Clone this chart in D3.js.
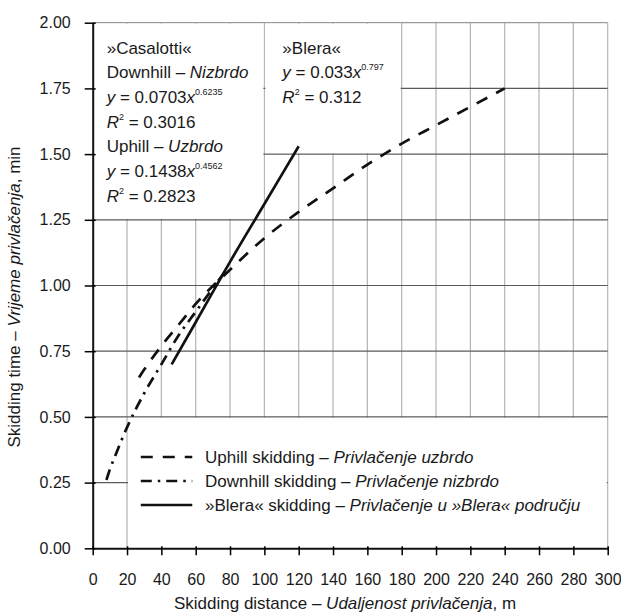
<!DOCTYPE html>
<html>
<head>
<meta charset="utf-8">
<script src="https://cdn.jsdelivr.net/npm/d3@7"></script>
<style>
  body { margin: 0; background: #fff; }
  svg text { font-family: "Liberation Sans", Arial, sans-serif; fill: #1a1a1a; }
  .tick text { font-family: "Liberation Sans Narrow", "Arial Narrow", "Liberation Sans", sans-serif; font-size: 16px; }
</style>
</head>
<body>
<div id="chart"></div>
<script>
// tick labels
var xTicks = [0, 20, 40, 60, 80, 100, 120, 140, 160, 180, 200, 220, 240, 260, 280, 300]
var yTicks = [0, 0.25, 0.5, 0.75, 1, 1.25, 1.5, 1.75, 2]

// curves (distance m, time min)
var uphillDist = [27, 30, 40, 50, 60, 80, 100, 120, 140, 160, 180, 200, 220, 240]
var uphillTime = [0.65, 0.68, 0.77, 0.85, 0.93, 1.06, 1.18, 1.28, 1.37, 1.46, 1.54, 1.61, 1.68, 1.75]
var downhillDist = [8, 10, 13, 20, 30, 40, 50, 60, 70, 79]
var downhillTime = [0.26, 0.30, 0.35, 0.46, 0.59, 0.70, 0.81, 0.90, 0.99, 1.07]
var bleraDist = [46, 60, 80, 100, 120]
var bleraTime = [0.70, 0.86, 1.09, 1.31, 1.53]

var legendLabels = [
  ["Uphill skidding – ", "Privlačenje uzbrdo"],
  ["Downhill skidding – ", "Privlačenje nizbrdo"],
  ["»Blera« skidding – ", "Privlačenje u »Blera« području"]
]

var width = 621, height = 615
var svg = d3.select("#chart").append("svg")
  .attr("width", width)
  .attr("height", height)

var x = d3.scaleLinear().domain([0, 300]).range([92.7, 607.7])
var y = d3.scaleLinear().domain([0, 2]).range([548.3, 22.7])

// grid
var grid = svg.append("g")
grid.selectAll(".vg").data(xTicks.slice(1)).enter().append("line")
  .attr("x1", d => x(d)).attr("x2", d => x(d))
  .attr("y1", y(2)).attr("y2", y(0))
  .attr("stroke", "#b4b4b4").attr("stroke-width", 1.2)
grid.selectAll(".hg").data(yTicks.slice(1)).enter().append("line")
  .attr("x1", x(0)).attr("x2", x(300))
  .attr("y1", d => y(d)).attr("y2", d => y(d))
  .attr("stroke", d => d == 2 ? "#9a9a9a" : "#5a5a5a").attr("stroke-width", 1.2)

// white boxes that hide the grid behind the texts
var boxes = [
  {x0: 0, x1: 100, y0: 1.25, y1: 2},
  {x0: 100, x1: 180, y0: 1.5, y1: 2},
  {x0: 20, x1: 300, y0: 0, y1: 0.5}
]
grid.selectAll(".box").data(boxes).enter().append("rect")
  .attr("x", d => x(d.x0) + 1)
  .attr("y", d => y(d.y1) + 1)
  .attr("width", d => x(d.x1) - x(d.x0) - 2)
  .attr("height", d => y(d.y0) - y(d.y1) - 2)
  .attr("fill", "#fff")

// axes
var yAxis = svg.append("g")
  .attr("transform", `translate(${x(0)},0)`)
  .call(d3.axisLeft(y).tickValues(yTicks).tickFormat(d3.format(".2f"))
    .tickSize(8).tickSizeOuter(0).tickPadding(14))
yAxis.selectAll(".tick line").attr("x1", 3).attr("stroke-width", 1.5)

var xAxis = svg.append("g")
  .attr("transform", `translate(0,${y(0)})`)
  .call(d3.axisBottom(x).tickValues(xTicks)
    .tickSize(7).tickSizeOuter(0).tickPadding(18))
xAxis.selectAll(".tick line").attr("y1", -2).attr("stroke-width", 1.5)
svg.selectAll(".domain").attr("stroke", "#111").attr("stroke-width", 2)
svg.selectAll(".tick text").attr("fill", "#1a1a1a")

// curves
var line = d3.line()
  .x(d => x(d[0]))
  .y(d => y(d[1]))
  .curve(d3.curveMonotoneX)

var series = [
  {dist: uphillDist, time: uphillTime, dash: "12,10"},
  {dist: downhillDist, time: downhillTime, dash: "11,6,2.5,6"},
  {dist: bleraDist, time: bleraTime, dash: null}
]
series.forEach(function(s) {
  svg.append("path")
    .datum(d3.zip(s.dist, s.time))
    .attr("d", line)
    .attr("fill", "none")
    .attr("stroke", "#111")
    .attr("stroke-width", 2.7)
    .attr("stroke-dasharray", s.dash)
})

// legend
var lg = svg.append("g")
series.forEach(function(s, i) {
  var cy = 457 + i * 24
  lg.append("line")
    .attr("x1", x(28)).attr("x2", x(58))
    .attr("y1", cy).attr("y2", cy)
    .attr("stroke", "#111").attr("stroke-width", 2.7)
    .attr("stroke-dasharray", s.dash)
  var t = lg.append("text")
    .attr("x", 205).attr("y", cy + 6)
    .style("font-size", "17px")
  t.append("tspan").text(legendLabels[i][0])
  t.append("tspan").style("font-style", "italic").text(legendLabels[i][1])
})

// equation annotations
function addLines(x0, y0, lines) {
  lines.forEach(function(parts, i) {
    var t = svg.append("text")
      .attr("x", x0).attr("y", y0 + i * 24.7)
      .style("font-size", "17px")
    parts.forEach(function(p) {
      var ts = t.append("tspan").text(p.t)
      if (p.i) ts.style("font-style", "italic")
      if (p.sup) ts.attr("dy", -8).style("font-size", "9px")
      if (p.back) ts.attr("dy", 8)
    })
  })
}

addLines(x(0) + 14, 53.5, [
  [{t: "»Casalotti«"}],
  [{t: "Downhill – "}, {t: "Nizbrdo", i: true}],
  [{t: "y", i: true}, {t: " = 0.0703"}, {t: "x", i: true}, {t: "0.6235", sup: true}],
  [{t: "R", i: true}, {t: "2", sup: true}, {t: " = 0.3016", back: true}],
  [{t: "Uphill – "}, {t: "Uzbrdo", i: true}],
  [{t: "y", i: true}, {t: " = 0.1438"}, {t: "x", i: true}, {t: "0.4562", sup: true}],
  [{t: "R", i: true}, {t: "2", sup: true}, {t: " = 0.2823", back: true}]
])

addLines(x(100) + 18, 53.5, [
  [{t: "»Blera«"}],
  [{t: "y", i: true}, {t: " = 0.033"}, {t: "x", i: true}, {t: "0.797", sup: true}],
  [{t: "R", i: true}, {t: "2", sup: true}, {t: " = 0.312", back: true}]
])

// axis titles
var xt = svg.append("text")
  .attr("x", 345).attr("y", 609)
  .attr("text-anchor", "middle")
  .style("font-size", "17px")
xt.append("tspan").text("Skidding distance – ")
xt.append("tspan").style("font-style", "italic").text("Udaljenost privlačenja")
xt.append("tspan").text(", m")

var yt = svg.append("text")
  .attr("transform", "translate(20,297) rotate(-90)")
  .attr("text-anchor", "middle")
  .style("font-size", "17px")
yt.append("tspan").text("Skidding time – ")
yt.append("tspan").style("font-style", "italic").text("Vrijeme privlačenja")
yt.append("tspan").text(", min")
</script>
</body>
</html>
